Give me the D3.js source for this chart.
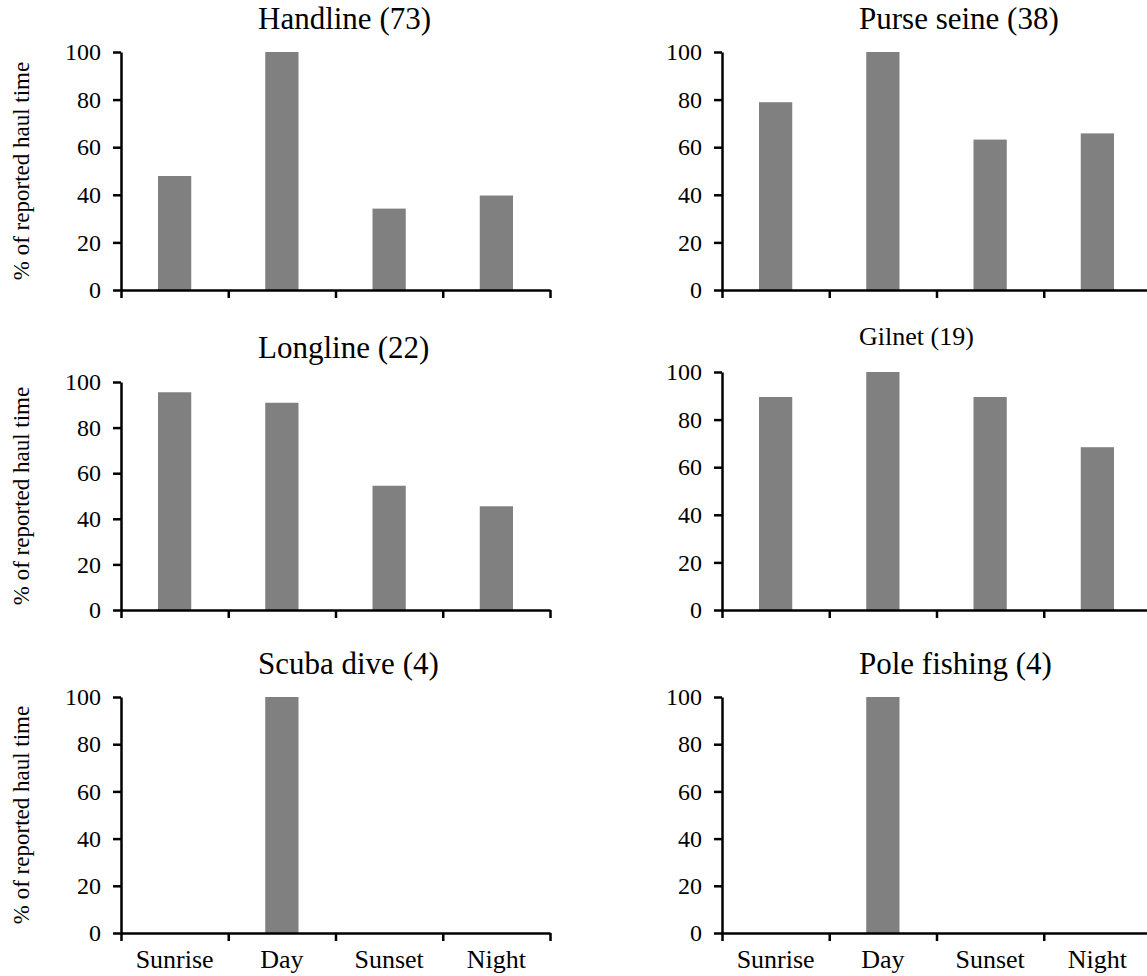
<!DOCTYPE html>
<html>
<head>
<meta charset="utf-8">
<script src="https://cdn.jsdelivr.net/npm/d3@7"></script>
<style>
  body { margin: 0; background: #fff; }
  svg { display: block; font-family: "Liberation Serif", "Times New Roman", serif; }
  .axis path, .axis line { stroke: #000; stroke-width: 2.5; }
  .axis text { fill: #000; font-family: "Liberation Serif", "Times New Roman", serif; }
</style>
</head>
<body>
<div id="chart"></div>
<script>
/* ── time of day of reported hauls, by gear ─────────────── */

const periods = ['Sunrise', 'Day', 'Sunset', 'Night'];
const yTicks  = [0, 20, 40, 60, 80, 100];

const handline    = [47.9, 100, 34.2, 39.7];
const purseSeine  = [78.9, 100, 63.2, 65.8];
const longline    = [95.5, 90.9, 54.5, 45.5];
const gilnet      = [89.5, 100, 89.5, 68.4];
const scubaDive   = [0, 100, 0, 0];
const poleFishing = [0, 100, 0, 0];

const titles = ['Handline (73)', 'Purse seine (38)', 'Longline (22)', 'Gilnet (19)', 'Scuba dive (4)', 'Pole fishing (4)'];
const yLabel = '% of reported haul time';

// panel layout (positions only)
const panels = [
  { values: handline,    col: 0, top: 52,  bottom: 290, titleY: 29,  titleSize: 31, xLabels: false },
  { values: purseSeine,  col: 1, top: 52,  bottom: 290, titleY: 29,  titleSize: 31, xLabels: false },
  { values: longline,    col: 0, top: 382, bottom: 610, titleY: 358, titleSize: 31, xLabels: false },
  { values: gilnet,      col: 1, top: 372, bottom: 610, titleY: 345, titleSize: 26, xLabels: false },
  { values: scubaDive,   col: 0, top: 697, bottom: 933, titleY: 674, titleSize: 31, xLabels: true },
  { values: poleFishing, col: 1, top: 697, bottom: 933, titleY: 674, titleSize: 31, xLabels: true }
];
panels.forEach((p, i) => p.title = titles[i]);

const width = 1147, height = 976;
const colX = [121, 722];
const plotW = 429;

const svg = d3.select('#chart').append('svg')
  .attr('width', width)
  .attr('height', height);

panels.forEach(p => {
  const x0 = colX[p.col];
  const g = svg.append('g');

  const x = d3.scaleBand().domain(periods).range([x0, x0 + plotW])
    .paddingInner(0.69).paddingOuter(0.345);
  const xEdge = d3.scaleLinear().domain([0, periods.length]).range([x0, x0 + plotW]);
  const y = d3.scaleLinear().domain([0, 100]).range([p.bottom, p.top]);

  // Bars
  g.selectAll('rect')
    .data(periods.map((k, i) => ({ k, v: p.values[i] })))
    .join('rect')
    .attr('x', d => x(d.k))
    .attr('width', x.bandwidth())
    .attr('y', d => y(d.v))
    .attr('height', d => y(0) - y(d.v))
    .attr('fill', '#808080');

  // Y axis
  g.append('g')
    .attr('class', 'axis')
    .attr('transform', `translate(${x0},0)`)
    .call(d3.axisLeft(y).tickValues(yTicks).tickSize(8).tickSizeOuter(0).tickPadding(12))
    .call(a => a.selectAll('text').attr('font-size', 24));

  // X axis line with ticks at category boundaries
  g.append('g')
    .attr('class', 'axis')
    .attr('transform', `translate(0,${p.bottom})`)
    .call(d3.axisBottom(xEdge).ticks(periods.length).tickSize(8).tickSizeOuter(0).tickFormat(''));

  if (p.xLabels) {
    g.append('g')
      .attr('transform', `translate(0,${p.bottom})`)
      .call(d3.axisBottom(x).tickSize(0).tickPadding(17))
      .call(a => a.select('.domain').remove())
      .call(a => a.selectAll('text')
        .attr('font-size', 26)
        .attr('fill', '#000')
        .attr('font-family', '"Liberation Serif", "Times New Roman", serif'));
  }

  // Title
  g.append('text')
    .attr('x', x0 + 137)
    .attr('y', p.titleY)
    .attr('font-size', p.titleSize)
    .attr('fill', '#000')
    .text(p.title);

  // Y label on left column only
  if (p.col === 0) {
    g.append('text')
      .attr('transform', `translate(29,${(p.top + p.bottom) / 2}) rotate(-90)`)
      .attr('text-anchor', 'middle')
      .attr('font-size', 23)
      .attr('fill', '#000')
      .text(yLabel);
  }
});
</script>
</body>
</html>
